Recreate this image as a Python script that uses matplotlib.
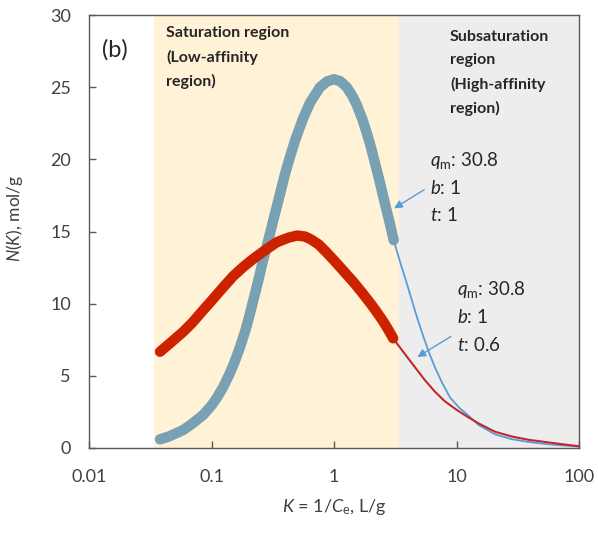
import matplotlib
matplotlib.use("Agg")
import matplotlib.pyplot as plt

plt.rcParams["font.family"] = ["Lato", "DejaVu Sans"]
plt.rcParams["mathtext.fontset"] = "custom"
plt.rcParams["mathtext.rm"] = "Lato"
plt.rcParams["mathtext.it"] = "Lato:italic"
plt.rcParams["mathtext.bf"] = "Lato:bold"

# region bounds (K, L/g)
sat_lo, sat_hi, k_max = 0.0337, 3.39, 100

# t = 1, thick part (saturation region) and thin tail
k_t1 = [0.038, 0.045, 0.0589, 0.07, 0.0857, 0.1, 0.11, 0.125, 0.1416, 0.155,
        0.171, 0.19, 0.206, 0.225, 0.241, 0.26, 0.282, 0.30, 0.32, 0.36,
        0.397, 0.44, 0.483, 0.56, 0.64, 0.769, 0.88, 1.0, 1.13, 1.27,
        1.4, 1.53, 1.7, 1.85, 2.0, 2.22, 2.4, 2.61, 2.85, 3.07]
n_t1 = [0.6, 0.8, 1.25, 1.7, 2.3, 2.95, 3.45, 4.25, 5.2, 6.0,
        7.0, 8.2, 9.3, 10.6, 11.6, 12.8, 13.95, 14.85, 15.8, 17.5,
        18.95, 20.25, 21.35, 22.85, 23.95, 25.0, 25.4, 25.55, 25.4, 25.0,
        24.45, 23.8, 22.8, 21.85, 20.85, 19.35, 18.2, 16.9, 15.6, 14.4]
k_t1_tail = [3.07, 3.46, 3.9, 4.3, 4.8, 5.4, 6.0, 6.7, 7.6, 8.85, 10.5, 12.5,
             15.1, 20.6, 28, 38.6, 52.8, 75, 100]
n_t1_tail = [14.4, 12.9, 11.5, 10.3, 8.95, 7.65, 6.55, 5.55, 4.55, 3.5, 2.8, 2.25,
             1.6, 0.95, 0.62, 0.42, 0.28, 0.17, 0.1]

# t = 0.6
k_t06 = [0.038, 0.045, 0.0589, 0.07, 0.0857, 0.1, 0.125, 0.15, 0.182, 0.215,
         0.249, 0.29, 0.34, 0.424, 0.5, 0.58, 0.65, 0.75, 0.87, 1.0,
         1.2, 1.44, 1.7, 2.0, 2.22, 2.5, 2.75, 3.04]
n_t06 = [6.67, 7.2, 8.06, 8.7, 9.56, 10.2, 11.15, 11.9, 12.55, 13.05,
         13.45, 13.85, 14.25, 14.57, 14.72, 14.65, 14.45, 14.1, 13.55, 13.0,
         12.25, 11.5, 10.75, 9.98, 9.45, 8.82, 8.25, 7.6]
k_t06_tail = [3.04, 3.5, 4.0, 4.58, 5.5, 6.67, 8.0, 10.0, 12.1, 15.1, 20.6,
              28.2, 38.6, 52.8, 75, 100]
n_t06_tail = [7.6, 6.9, 6.25, 5.6, 4.72, 3.9, 3.25, 2.65, 2.2, 1.71, 1.13,
              0.8, 0.57, 0.42, 0.25, 0.12]

fig = plt.figure(figsize=(5.98, 5.37), dpi=100)
ax = fig.add_axes([89 / 598, 89 / 537, 490 / 598, 433 / 537])

ax.axvspan(sat_lo, sat_hi, color="#FFF2D6", lw=0, zorder=0)
ax.axvspan(sat_hi, k_max, color="#EDEDED", lw=0, zorder=0)

ax.plot(k_t1_tail, n_t1_tail, color="#5B9BD5", lw=1.3, zorder=2)
ax.plot(k_t06_tail, n_t06_tail, color="#C0282D", lw=1.5, zorder=2)
ax.plot(k_t1, n_t1, color="#78A2B3", lw=7.5, solid_capstyle="round",
        solid_joinstyle="round", zorder=3)
ax.plot(k_t06, n_t06, color="#CC2200", lw=7.5, solid_capstyle="round",
        solid_joinstyle="round", zorder=4)

ax.set_xscale("log")
ax.set_xlim(0.01, 100)
ax.set_ylim(0, 30)
ax.set_xticks([0.01, 0.1, 1, 10, 100])
ax.set_xticklabels(["0.01", "0.1", "1", "10", "100"])
ax.minorticks_off()
ax.set_yticks(range(0, 31, 5))
ax.tick_params(direction="in", length=5, width=1, color="#595959",
               labelsize=13, labelcolor="#404040")
ax.tick_params(axis="x", pad=15)
ax.tick_params(axis="y", pad=13)
for s in ax.spines.values():
    s.set_color("#595959")
    s.set_linewidth(1)

ax.set_xlabel(r"$K$ = 1/$C_{\mathrm{e}}$, L/g", fontsize=13, color="#404040", labelpad=9)
ax.set_ylabel(r"$N$($K$), mol/g", fontsize=12.5, color="#404040")
ax.yaxis.set_label_coords(-0.131, 0.53)

ax.text(0.0127, 27.6, "(b)", fontsize=17, va="center", color="#262626")

for i, s in enumerate(["Saturation region", "(Low-affinity", "region)"]):
    ax.text(0.0426, 28.75 - 1.67 * i, s, fontsize=11.5, fontweight="bold",
            va="center", color="#262626")
for i, s in enumerate(["Subsaturation", "region", "(High-affinity", "region)"]):
    ax.text(8.85, 28.5 - 1.65 * i, s, fontsize=11.5, fontweight="bold",
            va="center", color="#262626")

lab1 = [r"$q_{\mathrm{m}}$: 30.8", r"$b$: 1", r"$t$: 1"]
lab2 = [r"$q_{\mathrm{m}}$: 30.8", r"$b$: 1", r"$t$: 0.6"]
for i, s in enumerate(lab1):
    ax.text(6.08, 19.9 - 1.87 * i, s, fontsize=13.5, va="center", color="#262626")
for i, s in enumerate(lab2):
    ax.text(10.05, 10.95 - 1.9 * i, s, fontsize=13.5, va="center", color="#262626")

arrow = dict(arrowstyle="-|>", color="#5B9BD5", lw=1, mutation_scale=12)
ax.annotate("", xy=(2.96, 16.5), xytext=(5.7, 18.0), arrowprops=arrow)
ax.annotate("", xy=(4.58, 6.2), xytext=(9.42, 7.83), arrowprops=arrow)

fig.savefig("out.png", dpi=100)
